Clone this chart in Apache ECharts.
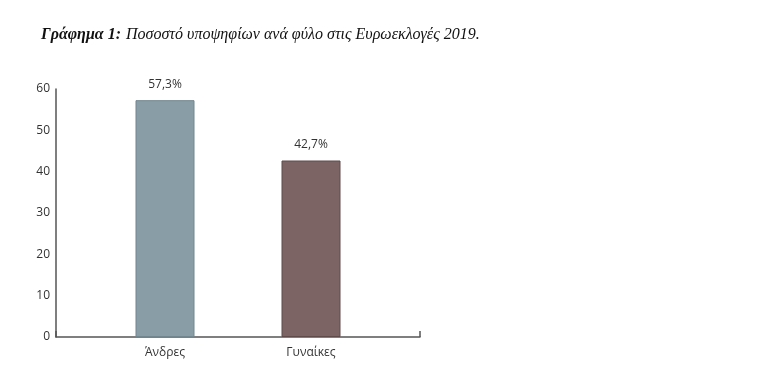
<!DOCTYPE html>
<html>
<head>
<meta charset="utf-8">
<script src="https://cdn.jsdelivr.net/npm/echarts@6/dist/echarts.min.js"></script>
<style>html,body{margin:0;padding:0;background:#fff}#c{width:768px;height:379px}</style>
</head>
<body>
<div id="c"></div>
<script>
var categories = ['Άνδρες', 'Γυναίκες'];
var values = [57.3, 42.7];
var valueLabels = ['57,3%', '42,7%'];
var barColors = ['#899da6', '#7c6464'];
var barBorders = ['#71868f', '#604a4a'];
var yTicks = [0, 10, 20, 30, 40, 50, 60];

var chart = echarts.init(document.getElementById('c'), null, {renderer: 'canvas'});
var font = 'Open Sans, Noto Sans, sans-serif';
chart.setOption({
  animation: false,
  backgroundColor: '#ffffff',
  title: {
    left: 36, top: 21,
    text: '{b|Γράφημα 1:} {i|Ποσοστό υποψηφίων ανά φύλο στις Ευρωεκλογές 2019.}',
    textStyle: {
      fontWeight: 'normal',
      rich: {
        b: {fontFamily: 'Liberation Serif', fontStyle: 'italic', fontWeight: 'bold', fontSize: 16, color: '#111'},
        i: {fontFamily: 'Liberation Serif', fontStyle: 'italic', fontWeight: 'normal', fontSize: 16, color: '#111'}
      }
    }
  },
  grid: [
    {left: 56, width: 364, top: 89, bottom: 42},
    {left: 92, width: 292, top: 89, bottom: 42}
  ],
  xAxis: [
    {type: 'value', gridIndex: 0, min: 0, max: 1, interval: 1,
     axisLine: {show: true, lineStyle: {color: '#555', width: 1.5}},
     axisTick: {show: true, inside: true, length: 6, lineStyle: {color: '#555', width: 1.5}},
     axisLabel: {show: false}, splitLine: {show: false}},
    {type: 'category', gridIndex: 1, data: categories,
     axisLine: {show: false}, axisTick: {show: false},
     axisLabel: {color: '#333', fontSize: 12, fontFamily: font, margin: 10}}
  ],
  yAxis: [
    {type: 'value', gridIndex: 0, min: 0, max: 60, interval: 10,
     axisLine: {show: true, lineStyle: {color: '#555', width: 1.5}},
     axisTick: {show: false},
     axisLabel: {color: '#333', fontSize: 12, fontFamily: font, margin: 6,
       customValues: yTicks},
     splitLine: {show: false}},
    {type: 'value', gridIndex: 1, min: 0, max: 60, interval: 10, show: false}
  ],
  series: [{
    type: 'bar', xAxisIndex: 1, yAxisIndex: 1, barWidth: 59,
    data: values.map(function (v, i) {
      return {value: v, itemStyle: {color: barColors[i], borderColor: barBorders[i], borderWidth: 1}};
    }),
    label: {show: true, position: 'top', distance: 10, color: '#333', fontSize: 12, fontFamily: font,
      formatter: function (p) { return valueLabels[p.dataIndex]; }}
  }]
});
</script>
</body>
</html>
